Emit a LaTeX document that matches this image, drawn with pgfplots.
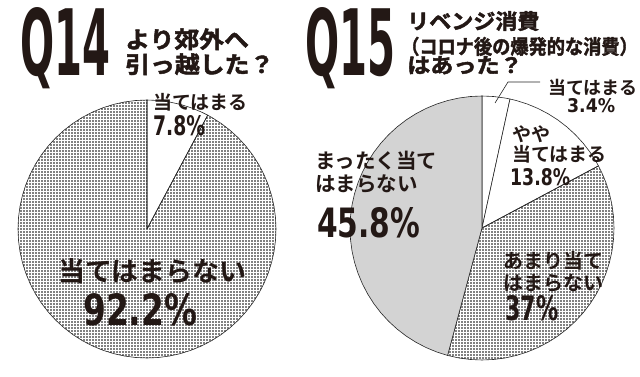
\documentclass[border=0pt]{standalone}
\usepackage{pgfplots}
\pgfplotsset{compat=1.18}
\usetikzlibrary{patterns.meta}
\usepackage{fontspec}
\usepackage{graphicx}
\newfontfamily\jpb{Noto Sans CJK JP Bold}[FakeBold=2]
\newfontfamily\jpm{Noto Sans CJK JP Bold}
\newfontfamily\numf{DejaVu Sans Condensed Bold}
\definecolor{ink}{RGB}{35,24,21}
\definecolor{piegray}{RGB}{211,211,211}
\newcommand{\jl}[4]{\node[anchor=base west,inner sep=0pt,text=ink] at (#1pt,#2pt) {\jpm\fontsize{#3pt}{#3pt}\selectfont #4};}
\newcommand{\jt}[5]{\node[anchor=base west,inner sep=0pt,text=ink] at (#1pt,#2pt) {\scalebox{#4}[1]{\jpb\fontsize{#3pt}{#3pt}\selectfont #5}};}
\newcommand{\nm}[5]{\node[anchor=base west,inner sep=0pt,text=ink] at (#1pt,#2pt) {\resizebox{#3pt}{#4pt}{\numf #5}};}
\pgfplotsset{pie/.style={anchor=south west, scale only axis, xmin=-1, xmax=1, ymin=-1, ymax=1, hide axis, clip=false, data cs=polar},
  slice/.style={draw=black!85, line width=0.6pt}}
\begin{document}
\begin{tikzpicture}
\path[use as bounding box] (0pt,0pt) rectangle (640pt,376pt);
% Q14 pie
\begin{axis}[pie, at={(18pt,18pt)}, width=258pt, height=258pt]
\addplot[slice, fill=white] coordinates {(0,0) (90,1) (85,1) (80,1) (75,1) (70,1) (65,1) (61.92,1) (0,0)};
\addplot[slice, pattern={Dots[distance=3pt, radius=0.85pt]}, pattern color=black] coordinates {(0,0) (61.92,1) (60,1) (55,1) (50,1) (45,1) (40,1) (35,1) (30,1) (25,1) (20,1) (15,1) (10,1) (5,1) (0,1) (-5,1) (-10,1) (-15,1) (-20,1) (-25,1) (-30,1) (-35,1) (-40,1) (-45,1) (-50,1) (-55,1) (-60,1) (-65,1) (-70,1) (-75,1) (-80,1) (-85,1) (-90,1) (-95,1) (-100,1) (-105,1) (-110,1) (-115,1) (-120,1) (-125,1) (-130,1) (-135,1) (-140,1) (-145,1) (-150,1) (-155,1) (-160,1) (-165,1) (-170,1) (-175,1) (-180,1) (-185,1) (-190,1) (-195,1) (-200,1) (-205,1) (-210,1) (-215,1) (-220,1) (-225,1) (-230,1) (-235,1) (-240,1) (-245,1) (-250,1) (-255,1) (-260,1) (-265,1) (-270,1) (0,0)};
\end{axis}
% Q15 pie
\begin{axis}[pie, at={(350pt,16pt)}, width=264pt, height=264pt]
\addplot[slice, fill=white] coordinates {(0,0) (90,1) (85,1) (80,1) (77.76,1) (0,0)};
\addplot[slice, fill=white] coordinates {(0,0) (77.76,1) (75,1) (70,1) (65,1) (60,1) (55,1) (50,1) (45,1) (40,1) (35,1) (30,1) (28.08,1) (0,0)};
\addplot[slice, pattern={Dots[distance=3pt, radius=0.85pt]}, pattern color=black] coordinates {(0,0) (28.08,1) (25,1) (20,1) (15,1) (10,1) (5,1) (0,1) (-5,1) (-10,1) (-15,1) (-20,1) (-25,1) (-30,1) (-35,1) (-40,1) (-45,1) (-50,1) (-55,1) (-60,1) (-65,1) (-70,1) (-75,1) (-80,1) (-85,1) (-90,1) (-95,1) (-100,1) (-105,1) (-105.12,1) (0,0)};
\addplot[slice, fill=piegray] coordinates {(0,0) (-105.12,1) (-110,1) (-115,1) (-120,1) (-125,1) (-130,1) (-135,1) (-140,1) (-145,1) (-150,1) (-155,1) (-160,1) (-165,1) (-170,1) (-175,1) (-180,1) (-185,1) (-190,1) (-195,1) (-200,1) (-205,1) (-210,1) (-215,1) (-220,1) (-225,1) (-230,1) (-235,1) (-240,1) (-245,1) (-250,1) (-255,1) (-260,1) (-265,1) (-270,1) (0,0)};
\end{axis}
% titles
\nm{20}{300}{90}{68}{Q14}
\jt{125}{328}{23}{1.08}{より郊外へ}
\jt{125}{303}{23}{1.08}{引っ越した？}
\nm{305}{300}{90}{68}{Q15}
\jt{407}{347}{21}{1.05}{リベンジ消費}
\jt{401}{322}{20}{0.91}{（コロナ後の爆発的な消費）}
\jt{407}{303}{21}{1.1}{はあった？}
% Q14 labels
\jl{153}{267}{19}{当てはまる}
\nm{153}{241}{52}{20}{7.8\%}
\jl{58}{95}{27}{当てはまらない}
\nm{83}{51}{114}{32}{92.2\%}
% Q15 labels
\draw[black!85, line width=0.6pt] (495pt,273pt) -- (508pt,294pt) -- (540pt,294pt);
\jl{548}{282}{18}{当てはまる}
\nm{567}{264}{48}{14}{3.4\%}
\jl{512}{235}{19}{やや}
\jl{512}{215}{19}{当てはまる}
\nm{510}{191}{60}{17}{13.8\%}
\jl{315}{208}{20.5}{まったく当て}
\jl{315}{185}{20.5}{はまらない}
\nm{317}{139}{103}{30}{45.8\%}
\jl{503}{108}{20}{あまり当て}
\jl{503}{86}{20}{はまらない}
\nm{505}{56}{53}{25}{37\%}
\end{tikzpicture}
\end{document}
